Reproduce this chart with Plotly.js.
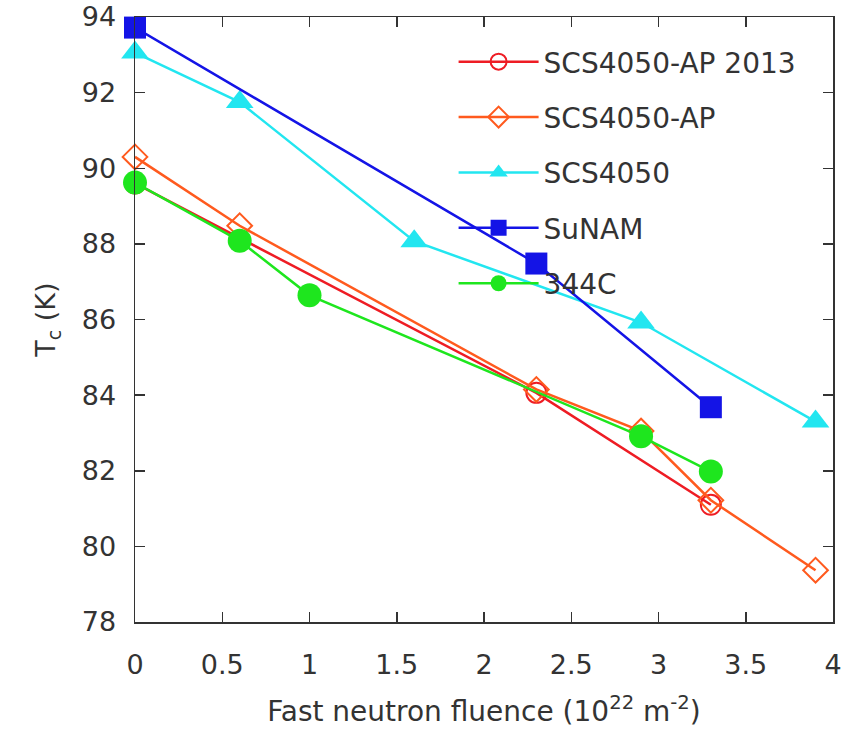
<!DOCTYPE html>
<html>
<head>
<meta charset="utf-8">
<script src="https://cdn.plot.ly/plotly-3.0.1.min.js"></script>
<style>html,body{margin:0;padding:0;background:#fff;}#chart{width:849px;height:737px;}</style>
</head>
<body>
<div id="chart"></div>
<script>
// Data
const seriesNames = ["SCS4050-AP 2013", "SCS4050-AP", "SCS4050", "SuNAM", "344C"];

const apX2013 = [0, 2.3, 3.3];
const apY2013 = [89.6, 84.06, 81.1];

const apX = [0, 0.6, 2.3, 2.9, 3.3, 3.9];
const apY = [90.3, 88.48, 84.15, 83.05, 81.22, 79.37];

const scsX = [0, 0.6, 1.6, 2.9, 3.9];
const scsY = [93.06, 91.75, 88.07, 85.92, 83.3];

const sunamX = [0, 2.3, 3.3];
const sunamY = [93.72, 87.48, 83.68];

const c344X = [0, 0.6, 1.0, 2.9, 3.3];
const c344Y = [89.62, 88.08, 86.64, 82.91, 81.98];

const xTicks = [0, 0.5, 1, 1.5, 2, 2.5, 3, 3.5, 4];
const yTicks = [78, 80, 82, 84, 86, 88, 90, 92, 94];

function mk(name, x, y, color, symbol, size, lw, grp) {
  return {
    type: "scatter", mode: "lines+markers", name: name, x: x, y: y,
    legendgroup: grp, cliponaxis: false,
    line: {color: color, width: lw},
    marker: {symbol: symbol, size: size, color: color,
             line: {color: color, width: symbol.indexOf("open") >= 0 ? 2 : 0}}
  };
}

const traces = [
  mk(seriesNames[0], apX2013, apY2013, "#ee1c24", "circle-open", 20, 2.5, "a"),
  mk(seriesNames[1], apX, apY, "#ff5a1e", "diamond-open", 19, 2.5, "b"),
  mk(seriesNames[2], scsX, scsY, "#22e6f0", "triangle-up", 24, 2.5, "c"),
  mk(seriesNames[3], sunamX, sunamY, "#1414e6", "square", 22, 2.5, "d"),
  mk(seriesNames[4], c344X, c344Y, "#1ee61e", "circle", 24, 2.5, "e")
];

const axisCommon = {
  showgrid: false, zeroline: false, showline: true, mirror: "ticks",
  linecolor: "#333", linewidth: 1.5, ticks: "inside", ticklen: 10,
  tickcolor: "#333", tickwidth: 1.5,
  tickfont: {family: "DejaVu Sans", size: 27, color: "#333"}
};

const layout = {
  width: 849, height: 737,
  margin: {l: 135, r: 16, t: 17, b: 115},
  paper_bgcolor: "#fff", plot_bgcolor: "#fff",
  font: {family: "DejaVu Sans", color: "#333"},
  xaxis: Object.assign({}, axisCommon, {
    range: [0, 4], tickvals: xTicks, ticktext: xTicks.map(String),
    ticklabelstandoff: 18,
    title: {text: "Fast neutron fluence (10<sup>22</sup> m<sup>-2</sup>)",
            font: {family: "DejaVu Sans", size: 28, color: "#333"}, standoff: 22}
  }),
  yaxis: Object.assign({}, axisCommon, {
    range: [78, 94], tickvals: yTicks, ticktext: yTicks.map(String),
    ticklabelstandoff: 12,
    title: {text: "T<sub>c</sub> (K)",
            font: {family: "DejaVu Sans", size: 27, color: "#333"}, standoff: 18}
  }),
  showlegend: true,
  legend: {
    x: 0.955, xanchor: "right", y: 0.967, yanchor: "top",
    bgcolor: "rgba(0,0,0,0)", traceorder: "grouped", tracegroupgap: 16,
    itemwidth: 80,
    font: {family: "DejaVu Sans", size: 28, color: "#333"}
  }
};

Plotly.newPlot("chart", traces, layout, {displayModeBar: false, staticPlot: true});
</script>
</body>
</html>
